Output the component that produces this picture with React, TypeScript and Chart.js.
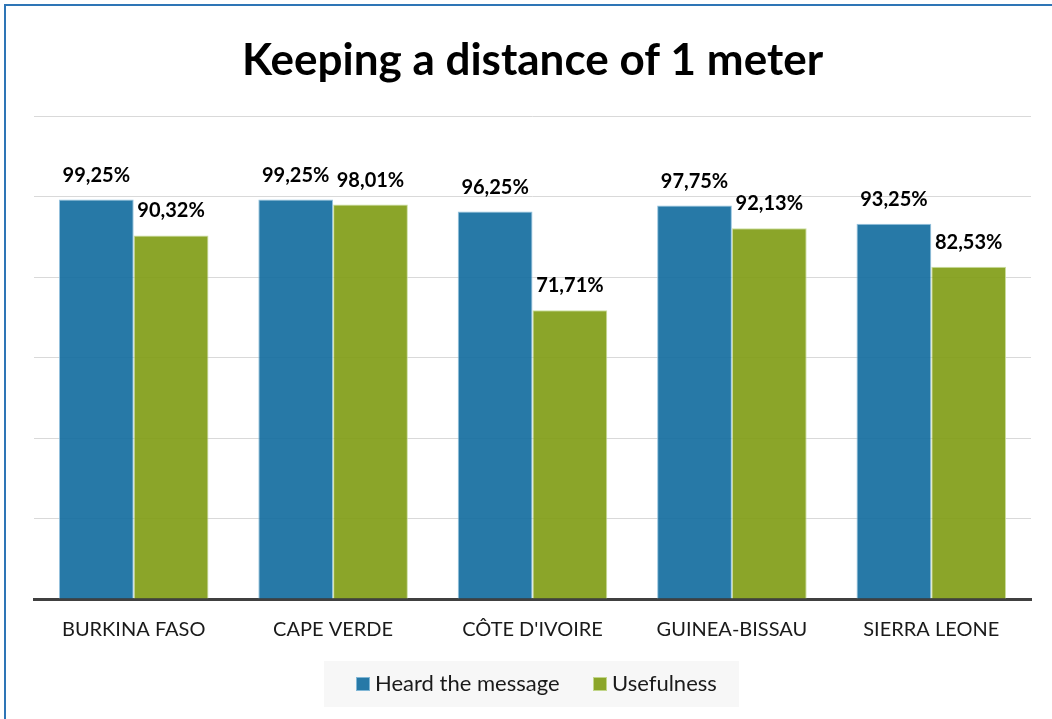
import React, { useEffect, useRef } from "react";
import { Chart, registerables } from "chart.js";

Chart.register(...registerables);

const TITLE = "Keeping a distance of 1 meter";
const categories = ["BURKINA FASO", "CAPE VERDE", "CÔTE D'IVOIRE", "GUINEA-BISSAU", "SIERRA LEONE"];
const heardValues = [99.25, 99.25, 96.25, 97.75, 93.25];
const usefulnessValues = [90.32, 98.01, 71.71, 92.13, 82.53];
const seriesNames = ["Heard the message", "Usefulness"];

const FONT = "Lato, 'Open Sans', sans-serif";

const fmt = (v: number) => v.toFixed(2).replace(".", ",") + "%";

const decorPlugin = {
  id: "decor",
  beforeDraw(chart: any) {
    const ctx = chart.ctx;
    ctx.save();
    ctx.fillStyle = "#ffffff";
    ctx.fillRect(0, 0, chart.width, chart.height);
    ctx.strokeStyle = "#2e75b6";
    ctx.lineWidth = 2;
    ctx.beginPath();
    ctx.moveTo(5, chart.height + 5);
    ctx.lineTo(5, 5);
    ctx.lineTo(chart.width + 5, 5);
    ctx.stroke();
    ctx.restore();
  },
  afterDraw(chart: any) {
    const ctx = chart.ctx;
    const area = chart.chartArea;
    ctx.save();
    // title
    ctx.fillStyle = "#000000";
    ctx.font = `bold 44px ${FONT}`;
    ctx.textAlign = "center";
    ctx.textBaseline = "alphabetic";
    ctx.fillText(TITLE, (area.left + area.right) / 2, 75);

    // value labels
    ctx.font = `bold 20px ${FONT}`;
    chart.data.datasets.forEach((ds: any, di: number) => {
      const meta = chart.getDatasetMeta(di);
      meta.data.forEach((bar: any, i: number) => {
        ctx.fillText(fmt(ds.data[i]), bar.x, bar.y - 18);
      });
    });

    // legend
    const lx = 324, ly = 661, lw = 415, lh = 46;
    ctx.fillStyle = "#f7f7f7";
    ctx.fillRect(lx, ly, lw, lh);
    ctx.font = `22px ${FONT}`;
    ctx.textAlign = "left";
    const items = [
      { x: 356, color: chart.data.datasets[0].backgroundColor, border: chart.data.datasets[0].borderColor },
      { x: 593, color: chart.data.datasets[1].backgroundColor, border: chart.data.datasets[1].borderColor },
    ];
    items.forEach((it, i) => {
      ctx.fillStyle = it.color;
      ctx.fillRect(it.x, 677, 14, 14);
      ctx.strokeStyle = it.border;
      ctx.lineWidth = 1;
      ctx.strokeRect(it.x + 0.5, 677.5, 13, 13);
      ctx.fillStyle = "#1a1a1a";
      ctx.fillText(seriesNames[i], it.x + 19, 691);
    });
    ctx.restore();
  },
};

export default function App() {
  const ref = useRef<HTMLCanvasElement>(null);
  useEffect(() => {
    if (!ref.current) return;
    const chart = new Chart(ref.current, {
      type: "bar",
      data: {
        labels: categories,
        datasets: [
          {
            label: seriesNames[0],
            data: heardValues,
            backgroundColor: "rgba(15,106,157,0.9)",
            borderColor: "rgba(140,190,220,0.9)",
            borderWidth: 1,
          },
          {
            label: seriesNames[1],
            data: usefulnessValues,
            backgroundColor: "rgba(126,155,18,0.9)",
            borderColor: "rgba(200,220,150,0.9)",
            borderWidth: 1,
          },
        ],
      },
      options: {
        responsive: false,
        maintainAspectRatio: false,
        animation: false,
        layout: { padding: { left: 34, right: 21, top: 116, bottom: 0 } },
        plugins: {
          legend: { display: false },
          title: { display: false },
          tooltip: { enabled: false },
        },
        datasets: { bar: { categoryPercentage: 0.75, barPercentage: 1 } },
        scales: {
          x: {
            grid: { display: false, drawTicks: false },
            border: { display: true, color: "#404040", width: 3 },
            ticks: { color: "#1a1a1a", font: { family: FONT, size: 20 }, padding: 19, maxRotation: 0 },
            afterFit: (s: any) => { s.height = 120; },
          },
          y: {
            min: 0,
            max: 120,
            ticks: { display: false, stepSize: 20 },
            grid: {
              drawTicks: false,
              color: (c: any) => (c.tick && c.tick.value === 0 ? "rgba(0,0,0,0)" : "#d9d9d9"),
              lineWidth: 1,
            },
            border: { display: false },
            afterFit: (s: any) => { s.width = 0; },
          },
        },
      },
      plugins: [decorPlugin],
    });
    return () => chart.destroy();
  }, []);
  return (
    <div style={{ position: "absolute", left: 0, top: 0, width: 1052, height: 719 }}>
      <canvas ref={ref} width={1052} height={719} />
    </div>
  );
}
